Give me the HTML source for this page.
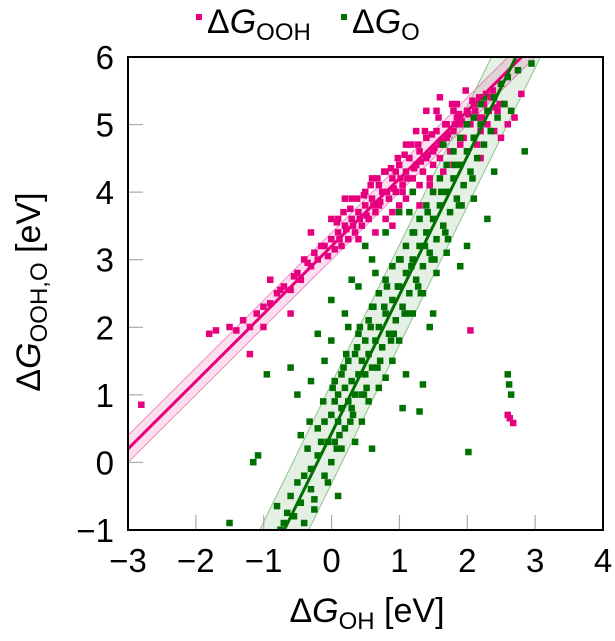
<!DOCTYPE html>
<html><head><meta charset="utf-8"><style>
html,body{margin:0;padding:0;background:#fff;overflow:hidden;}
svg{display:block;font-family:"Liberation Sans","DejaVu Sans",sans-serif;}
</style></head><body>
<svg id="chart" width="615" height="641" viewBox="0 0 615 641">
<defs><clipPath id="plotclip"><rect x="128" y="57" width="475" height="473"/></clipPath></defs>
<g id="bands" clip-path="url(#plotclip)"></g>
<g id="points" clip-path="url(#plotclip)"></g>
<g id="lines" clip-path="url(#plotclip)"></g>
<g id="ticks"></g>
<rect x="128" y="57" width="475" height="473" fill="none" stroke="#000" stroke-width="2"/>
<g>
  <rect x="196" y="14" width="6" height="6" fill="#e6007e"/>
  <text x="207" y="33" font-size="34">Δ<tspan font-style="italic">G</tspan><tspan font-size="24" dy="7">OOH</tspan></text>
  <rect x="341" y="14" width="6" height="6" fill="#007000"/>
  <text x="352" y="33" font-size="34">Δ<tspan font-style="italic">G</tspan><tspan font-size="24" dy="7">O</tspan></text>
</g>
<text x="367" y="622" font-size="34" text-anchor="middle">Δ<tspan font-style="italic">G</tspan><tspan font-size="24" dy="7">OH</tspan><tspan dy="-7"> [eV]</tspan></text>
<text transform="translate(40,292) rotate(-90)" font-size="34" text-anchor="middle">Δ<tspan font-style="italic">G</tspan><tspan font-size="24" dy="7">OOH,O</tspan><tspan dy="-7"> [eV]</tspan></text>
</svg>
<script>
const xTicks=[-3,-2,-1,0,1,2,3,4];
const yTicks=[-1,0,1,2,3,4,5,6];
const oohX=[-1.5,-1.4,-1.3,-1.2,-1.1,-1.0,-0.9,-0.8,-0.7,-0.6,-0.5,-0.45,-0.4,-0.3,-0.25,-0.2,-0.1,-0.05,0,0.05,0.1,0.1,0.15,0.2,0.25,0.3,0.3,0.35,0.4,0.45,0.5,0.5,0.55,0.6,0.65,0.7,0.7,0.75,0.8,0.8,0.85,0.9,0.9,0.95,1.0,1.0,1.05,1.1,1.1,1.15,1.2,1.2,1.25,1.3,1.3,1.35,1.4,1.4,1.45,1.5,1.5,1.55,1.6,1.6,1.65,1.7,1.7,1.75,1.8,1.8,1.85,1.9,1.9,1.95,2.0,2.0,2.05,2.1,2.1,2.15,2.2,2.25,2.3,2.35,2.4,2.45,2.5,2.55,2.6,2.8,2.7,1.4,1.6,0.6,0.2,-0.3,-0.6,-1.0,-1.7,-1.8,-1.2,-2.8,2.05,2.6,2.63,2.68,-0.9,0.0,0.4,1.1,1.8,0.9,1.3,2.2,1.5,
0.12,0.22,0.32,0.42,0.52,0.62,0.72,0.82,0.92,1.02,1.12,1.22,1.32,1.42,1.52,1.62,1.72,1.82,1.92,2.02,2.12,2.22,2.32,2.42,0.08,0.28,0.48,0.68,0.88,1.08,1.28,1.48,1.68,1.88,2.08,2.28,2.48,0.18,0.38,0.58,0.78,0.98,1.18,1.38,1.58,1.78,1.98,2.18,2.38,-0.15,-0.35,-0.55,-0.75,0.95,1.25,1.55,1.85,2.15,0.65,1.05,1.45];
const oohY=[2.0,1.95,2.1,2.0,2.2,2.3,2.35,2.5,2.6,2.55,2.8,2.7,3.0,2.9,3.1,3.0,3.2,3.05,3.3,3.15,3.4,3.6,3.2,3.5,3.3,3.6,3.9,3.4,3.7,3.5,3.8,4.0,3.6,3.9,3.7,4.1,3.8,4.0,3.6,4.3,3.9,4.2,3.7,4.0,4.4,3.8,4.1,4.3,3.9,4.5,4.2,4.0,4.4,4.6,4.1,4.3,4.5,4.8,4.2,4.6,4.4,4.9,4.5,4.7,4.3,4.8,5.0,4.6,4.9,4.4,5.1,4.7,5.0,4.8,5.2,4.6,5.0,5.3,4.8,5.1,4.9,5.3,5.0,5.4,4.9,5.2,4.8,5.3,5.0,5.45,5.1,5.2,5.4,4.2,3.9,3.4,2.2,2.0,1.95,1.9,1.6,0.85,1.95,0.7,0.65,0.58,2.7,3.6,3.3,4.7,5.2,3.5,3.8,4.5,4.0,
3.3,3.45,3.5,3.6,3.65,3.8,3.85,4.0,4.05,4.2,4.2,4.35,4.45,4.55,4.65,4.75,4.85,5.0,5.05,5.15,5.2,5.1,5.2,5.25,3.55,3.75,3.95,4.2,4.35,4.55,4.7,4.85,5.0,5.15,5.35,5.45,5.3,3.7,3.9,4.1,4.3,4.5,4.7,4.9,5.1,5.3,5.5,5.4,5.5,3.2,2.95,2.75,2.55,4.3,4.9,5.2,5.3,4.7,3.4,4.0,4.1];
const oX=[-0.75,-0.7,-0.65,-0.6,-0.55,-0.5,-0.45,-0.4,-0.35,-0.3,-0.3,-0.25,-0.2,-0.2,-0.15,-0.1,-0.1,-0.05,0,0,0.05,0.05,0.1,0.1,0.15,0.15,0.2,0.2,0.25,0.25,0.3,0.3,0.35,0.35,0.4,0.4,0.45,0.45,0.5,0.5,0.55,0.55,0.6,0.6,0.65,0.7,0.7,0.75,0.8,0.8,0.85,0.9,0.9,0.95,1.0,1.0,1.05,1.1,1.1,1.15,1.2,1.2,1.25,1.3,1.3,1.35,1.4,1.4,1.45,1.5,1.5,1.55,1.6,1.6,1.65,1.7,1.7,1.75,1.8,1.8,1.85,1.9,1.9,1.95,2.0,2.0,2.05,2.1,2.1,2.15,2.2,2.2,2.25,2.3,2.35,2.4,2.45,2.5,2.55,2.6,2.65,-0.1,0,-0.3,0.2,0.4,0.6,0.8,1.0,1.2,-0.6,-0.5,0.9,1.0,1.2,1.35,1.55,1.7,0.1,-0.4,-0.8,-0.25,1.1,1.35,0.8,0.35,0.55,0.7,-0.05,-1.5,-1.15,-1.08,-0.95,1.05,1.3,2.02,2.6,2.62,2.65,1.9,2.0,2.3,2.85,2.95,2.75,2.4,2.1,0.0,-0.2,0.3,0.5,1.5,0.15,0.45,
0.02,0.12,0.22,0.32,0.42,0.52,0.62,0.72,0.82,0.92,1.02,1.12,1.22,1.32,1.42,1.52,1.62,1.72,1.82,1.92,0.08,0.28,0.48,0.68,0.88,1.08,1.28,1.48,1.68,1.88,2.08,0.18,0.38,0.58,0.78,0.98,1.18,1.38,-0.12,-0.32,0.25,0.65,1.15,1.65,2.25,-0.45,0.05,0.6,1.45];
const oY=[-1.0,-0.9,-0.75,-0.5,-0.8,-0.3,-0.6,-0.2,0.2,-0.4,-0.1,-0.7,0.5,0.1,0.3,0.6,-0.2,0.3,0.7,0.0,0.9,0.3,1.0,0.6,0.8,1.3,1.1,0.5,0.9,1.5,1.2,0.8,1.6,1.0,1.3,1.9,1.5,1.0,1.8,1.3,2.1,1.6,1.4,2.3,1.8,2.0,2.5,1.7,2.2,2.7,1.9,2.4,2.9,2.1,2.6,3.0,2.3,2.8,3.2,2.5,3.0,3.4,2.7,3.2,3.6,2.9,3.4,3.8,3.1,3.6,4.0,3.3,3.8,4.2,3.5,4.0,4.4,3.7,4.2,4.6,3.9,4.4,4.8,4.1,4.6,5.0,4.3,4.8,5.1,4.5,5.0,5.3,4.7,5.2,4.9,5.4,5.1,5.6,5.3,5.7,5.2,1.5,1.8,1.2,2.2,2.6,3.0,3.4,3.7,4.0,1.4,1.0,1.5,1.8,2.2,2.5,2.8,3.1,-0.5,-0.9,-0.65,-0.55,1.3,1.15,1.25,0.3,0.9,1.1,-0.3,-0.9,0.0,0.1,1.3,0.8,0.75,0.15,1.3,1.15,1.0,2.9,3.2,3.6,4.6,5.9,5.8,4.3,3.9,2.4,1.9,2.7,3.2,2.2,0.2,0.6,
1.1,0.4,1.6,0.7,2.0,1.1,2.3,1.5,2.6,1.9,3.0,2.2,3.4,2.5,3.7,3.0,4.0,3.3,4.4,3.8,0.2,0.6,1.0,1.4,1.8,2.2,2.6,3.0,3.4,3.8,4.2,1.4,1.7,2.0,2.3,2.6,2.9,3.2,0.9,0.6,2.0,2.8,3.7,4.7,5.4,0.4,1.2,0.2,2.0];
const fitOOH=[1.0,3.2,0.2];
const fitO=[2.05,0.43,0.74];

const NS='http://www.w3.org/2000/svg';
const X0=128,X1=603,Y0=530,Y1=57;
const sx=v=>X0+(v-(-3))*(X1-X0)/7;
const sy=v=>Y0-(v-(-1))*(Y0-Y1)/7;
function mk(tag,attrs,parent){const e=document.createElementNS(NS,tag);for(const k in attrs)e.setAttribute(k,attrs[k]);parent.appendChild(e);return e;}
const ticks=document.getElementById('ticks');
xTicks.forEach(t=>{
  const l=mk('line',{x1:sx(t),x2:sx(t),y1:Y0,y2:Y0-15,stroke:'#aaa','stroke-width':1.2},ticks);
  
  
  const tx=mk('text',{x:sx(t),y:572,'font-size':33,'text-anchor':'middle'},ticks);
  tx.textContent=t<0?'−'+Math.abs(t):String(t);
  
  
});
yTicks.forEach(t=>{
  const l=mk('line',{x1:X0,x2:X0+15,y1:sy(t),y2:sy(t),stroke:'#aaa','stroke-width':1.2},ticks);
  
  
  const tx=mk('text',{x:114,y:sy(t)+12,'font-size':33,'text-anchor':'end'},ticks);
  tx.textContent=t<0?'−'+Math.abs(t):String(t);
  
  
});
const bands=document.getElementById('bands'),lines=document.getElementById('lines'),pts=document.getElementById('points');
function band(f,fill,edge,lc,name){
  const [m,b,w]=f,xa=-4,xb=5;
  const p=mk('polygon',{points:`${sx(xa)},${sy(m*xa+b+w)} ${sx(xb)},${sy(m*xb+b+w)} ${sx(xb)},${sy(m*xb+b-w)} ${sx(xa)},${sy(m*xa+b-w)}`,fill:fill,stroke:'none'},bands);
  
  
  [w,-w].forEach(o=>{const e=mk('line',{x1:sx(xa),y1:sy(m*xa+b+o),x2:sx(xb),y2:sy(m*xb+b+o),stroke:edge,'stroke-width':1},bands);
    
    });
  const l=mk('line',{x1:sx(xa),y1:sy(m*xa+b),x2:sx(xb),y2:sy(m*xb+b),stroke:lc,'stroke-width':3},lines);
  
  
}
band(fitOOH,'rgba(230,0,126,0.13)','#f08cc4','#e6007e','ooh');
band(fitO,'rgba(0,112,0,0.10)','#8cc48c','#007000','o');
function scatter(xs,ys,c,name){
  xs.forEach((x,i)=>{const r=mk('rect',{x:sx(x)-3.5,y:sy(ys[i])-3.5,width:6.5,height:6.5,fill:c},pts);
    
    });
}
scatter(oohX,oohY,'#e6007e','ooh-point');
scatter(oX,oY,'#007000','o-point');
</script>
</body></html>
